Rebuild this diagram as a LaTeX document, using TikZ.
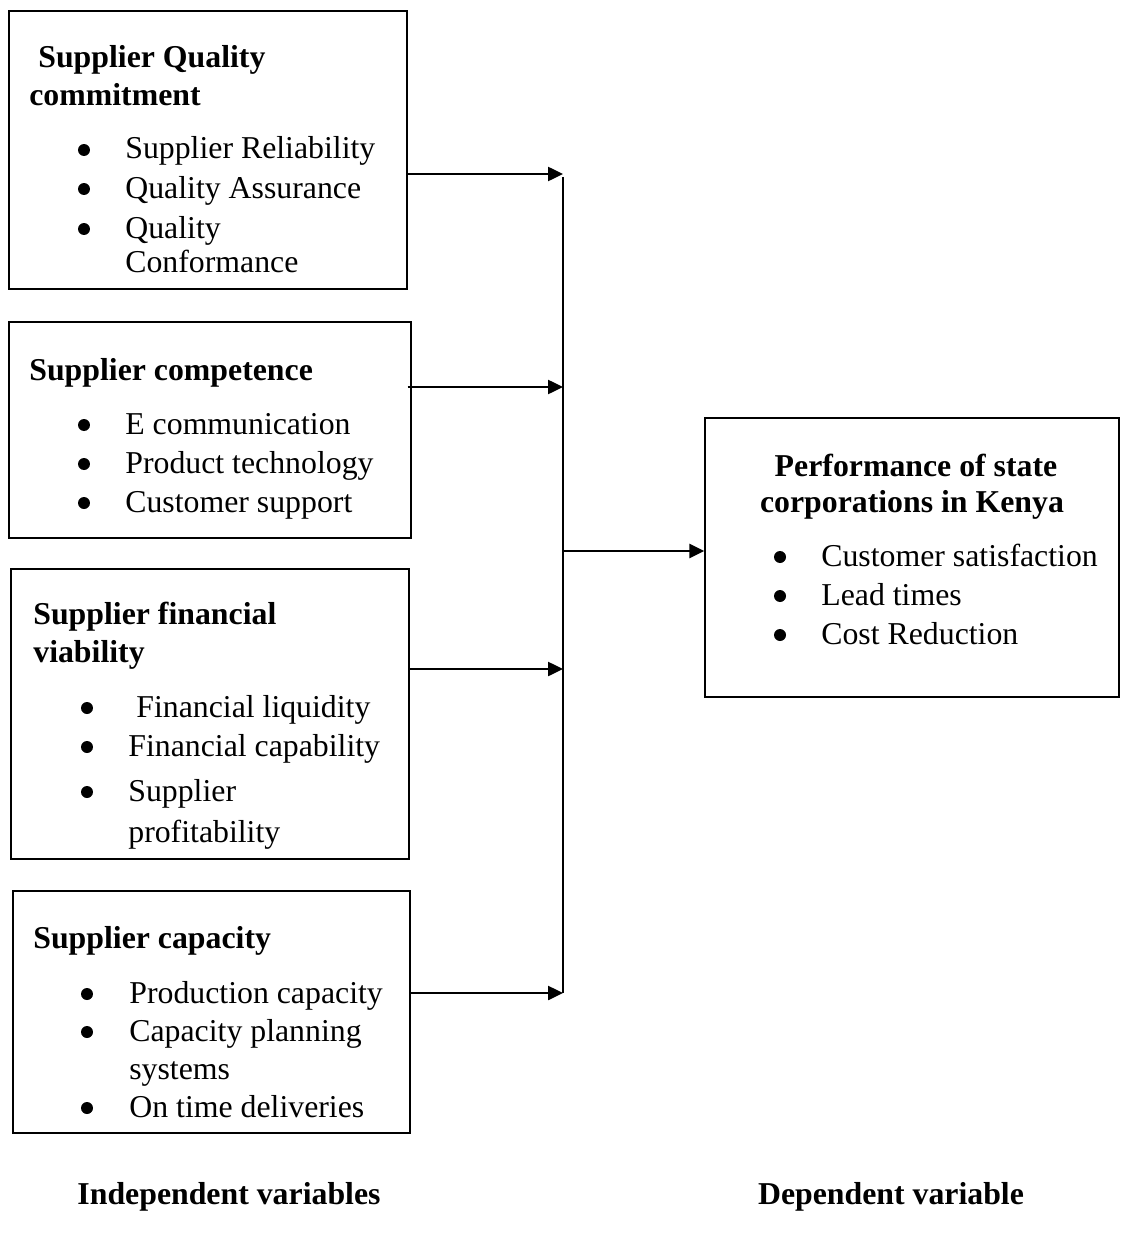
\documentclass[tikz,border=0pt]{standalone}
\usepackage{fontspec}
\setmainfont{Liberation Serif}
\usetikzlibrary{arrows.meta}
\tikzset{
  box/.style={draw, line width=0.85pt, inner sep=0pt},
  txt/.style={anchor=base west, inner sep=0pt, font=\fontsize{18.1}{22}\selectfont},
  head/.style={txt, font=\fontsize{18.1}{22}\selectfont\bfseries},
  chead/.style={head, anchor=base},
  flow/.style={line width=1.2pt, -{Triangle[length=8.5pt,width=8pt]}},
  bus/.style={line width=1.2pt},
}
\newcommand{\bul}[2]{\fill (#1,#2) circle (0.12cm);}
\begin{document}
\begin{tikzpicture}[x=0.02cm, y=-0.02cm]
\useasboundingbox (0,0) rectangle (1120,1240);

% boxes
\node[box, minimum width=7.96cm, minimum height=5.56cm] (b1) at (208,150) {};
\node[box, minimum width=8.04cm, minimum height=4.32cm] (b2) at (210,430) {};
\node[box, minimum width=7.96cm, minimum height=5.80cm] (b3) at (210,714) {};
\node[box, minimum width=7.94cm, minimum height=4.84cm] (b4) at (211.5,1012) {};
\node[box, minimum width=8.28cm, minimum height=5.58cm] (out) at (912,557.5) {};

% box 1
\node[head] (h1a) at (38,68) {Supplier Quality};
\node[head] (h1b) at (29,106) {commitment};
\bul{84}{150}\node[txt] (i1a) at (125,159) {Supplier Reliability};
\bul{84}{189}\node[txt] (i1b) at (125,198) {Quality Assurance};
\bul{84}{229}\node[txt] (i1c) at (125,238) {Quality};
\node[txt] (i1d) at (125,273) {Conformance};

% box 2
\node[head] (h2) at (29,380) {Supplier competence};
\bul{84}{425}\node[txt] (i2a) at (125,434) {E communication};
\bul{84}{464}\node[txt] (i2b) at (125,473) {Product technology};
\bul{84}{503}\node[txt] (i2c) at (125,512) {Customer support};

% box 3
\node[head] (h3a) at (33,624) {Supplier financial};
\node[head] (h3b) at (33,662) {viability};
\bul{87}{708}\node[txt] (i3a) at (136,717) {Financial liquidity};
\bul{87}{747}\node[txt] (i3b) at (128,756) {Financial capability};
\bul{87}{792}\node[txt] (i3c) at (128,801) {Supplier};
\node[txt] (i3d) at (128,842) {profitability};

% box 4
\node[head] (h4) at (33,948) {Supplier capacity};
\bul{87}{994}\node[txt] (i4a) at (129,1003) {Production capacity};
\bul{87}{1032}\node[txt] (i4b) at (129,1041) {Capacity planning};
\node[txt] (i4c) at (129,1079) {systems};
\bul{87}{1108}\node[txt] (i4d) at (129,1117) {On time deliveries};

% output box
\node[chead] (ho1) at (916,476) {Performance of state};
\node[chead] (ho2) at (912,512) {corporations in Kenya};
\bul{780}{557}\node[txt] (io1) at (821,566) {Customer satisfaction};
\bul{780}{596}\node[txt] (io2) at (821,605) {Lead times};
\bul{780}{635}\node[txt] (io3) at (821,644) {Cost Reduction};

% bottom labels
\node[chead] (lind) at (229,1204) {Independent variables};
\node[chead] (ldep) at (891,1204) {Dependent variable};

% connectors
\coordinate (j1) at (563,174);
\coordinate (j2) at (563,387);
\coordinate (j3) at (563,669);
\coordinate (j4) at (563,993);
\coordinate (jc) at (563,551);
\draw[bus] (j1) ++(0,3) -- (j4);
\draw[flow] (b1.east |- j1) -- (j1);
\draw[flow] (b2.east |- j2) ++(-4,0) -- (j2);
\draw[flow] (b3.east |- j3) -- (j3);
\draw[flow] (b4.east |- j4) -- (j4);
\draw[flow] (jc) -- (out.west |- jc);
\end{tikzpicture}
\end{document}
